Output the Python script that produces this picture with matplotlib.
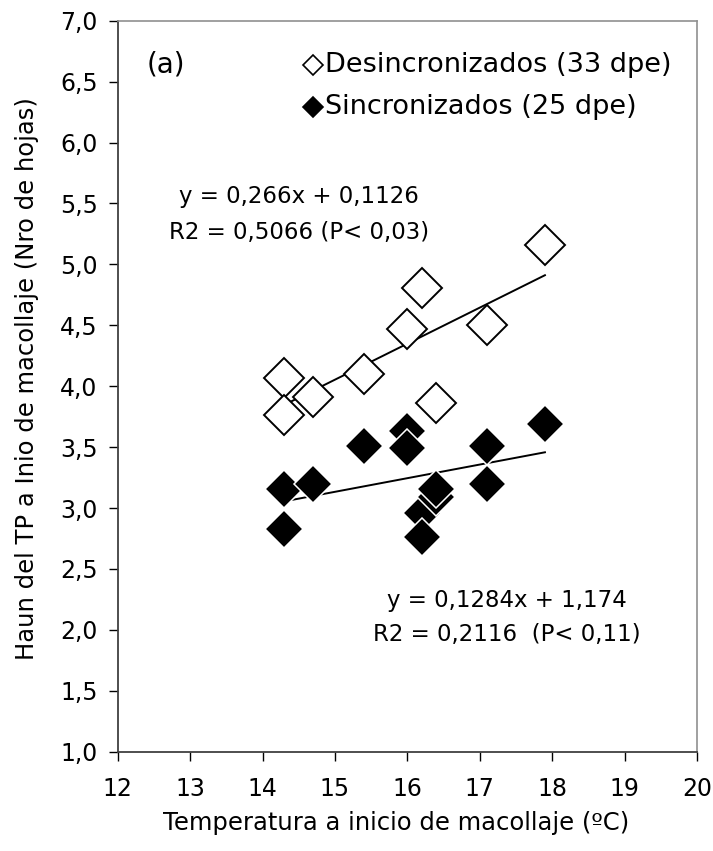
import matplotlib
matplotlib.use("Agg")
import matplotlib.pyplot as plt
from matplotlib.lines import Line2D
import numpy as np

plt.rcParams['font.family'] = ['DejaVu Sans']

# Data
desinc_x = [14.3, 14.3, 14.7, 15.4, 16.0, 16.2, 16.4, 17.1, 17.9]
desinc_y = [4.07, 3.76, 3.91, 4.10, 4.47, 4.81, 3.86, 4.50, 5.16]
sinc_x = [14.3, 14.3, 14.7, 15.4, 16.0, 16.0, 16.2, 16.2, 16.4, 16.4, 17.1, 17.1, 17.9]
sinc_y = [3.155, 2.83, 3.20, 3.51, 3.63, 3.49, 2.96, 2.76, 3.09, 3.16, 3.51, 3.20, 3.69]
x_ticks = [12, 13, 14, 15, 16, 17, 18, 19, 20]
y_ticks = [1.0, 1.5, 2.0, 2.5, 3.0, 3.5, 4.0, 4.5, 5.0, 5.5, 6.0, 6.5, 7.0]
labels = ['Desincronizados (33 dpe)', 'Sincronizados (25 dpe)']
eq_top = ['y = 0,266x + 0,1126', 'R2 = 0,5066 (P< 0,03)']
eq_bot = ['y = 0,1284x + 1,174', 'R2 = 0,2116  (P< 0,11)']

W, H = 713, 851
fig = plt.figure(figsize=(W / 100, H / 100), dpi=100)
ax = fig.add_axes([117.7 / W, 1 - 751.7 / H, (697 - 117.7) / W, (751.7 - 20.7) / H])

# trend lines
for xs, ys in [(desinc_x, desinc_y), (sinc_x, sinc_y)]:
    m, b = np.polyfit(xs, ys, 1)
    xx = np.array([min(xs), max(xs)])
    ax.plot(xx, m * xx + b, color='black', lw=1.4, zorder=2)

ax.plot(desinc_x, desinc_y, linestyle='none', marker='D', markersize=20,
        markerfacecolor='white', markeredgecolor='black', markeredgewidth=1.4, zorder=3)
ax.plot(sinc_x, sinc_y, linestyle='none', marker='D', markersize=19.5,
        markerfacecolor='black', markeredgecolor='white', markeredgewidth=1.1, zorder=4)

ax.set_xlim(12, 20)
ax.set_ylim(1.0, 7.0)
ax.set_xticks(x_ticks)
ax.set_yticks(y_ticks)
ax.set_xticklabels([str(t) for t in x_ticks])
ax.set_yticklabels([f"{t:.1f}".replace('.', ',') for t in y_ticks])
ax.tick_params(axis='both', direction='out', labelsize=17, length=6.5, width=1, colors='black')
ax.tick_params(axis='x', pad=12)
ax.tick_params(axis='y', pad=8)

for s in ['left', 'bottom']:
    ax.spines[s].set_color('#404040')
    ax.spines[s].set_linewidth(1.3)
for s in ['top', 'right']:
    ax.spines[s].set_color('#909090')
    ax.spines[s].set_linewidth(1.2)

ax.set_xlabel('Temperatura a inicio de macollaje (ºC)', fontsize=17.5)
ax.set_ylabel('Haun del TP a Inio de macollaje (Nro de hojas)', fontsize=17.5)
ax.xaxis.set_label_coords(0.48, -0.081)
ax.yaxis.set_label_coords(-0.136, 0.51)


def xy(px, py):
    return (px / W, 1 - py / H)


fig.text(*xy(147, 65), '(a)', fontsize=20, va='center', ha='left')
for i, (lab, fc) in enumerate(zip(labels, ['white', 'black'])):
    py = 65 + 42 * i
    fx, fy = xy(313, py)
    fig.lines.append(Line2D([fx], [fy], transform=fig.transFigure, marker='D', markersize=10,
                            markerfacecolor=fc, markeredgecolor='black', markeredgewidth=1.2,
                            linestyle='none'))
    fig.text(*xy(325, py), lab, fontsize=19.5, va='center', ha='left')

# equations
for i, t in enumerate(eq_top):
    fig.text(*xy(299, 197 + 35 * i), t, fontsize=16.5, va='center', ha='center')
for i, t in enumerate(eq_bot):
    fig.text(*xy(507, 600 + 35 * i), t, fontsize=16.5, va='center', ha='center')

fig.savefig('out.png', dpi=100)
